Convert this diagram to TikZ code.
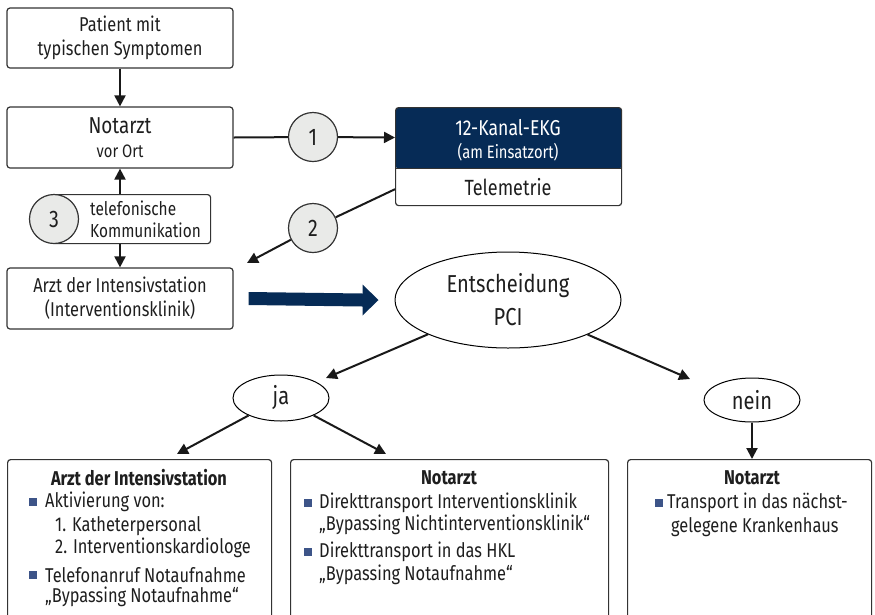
\documentclass[tikz,border=0pt]{standalone}
\usepackage{fontspec}
\setmainfont{Fira Sans}[FakeStretch=0.82]
\usetikzlibrary{shapes.geometric,arrows.meta,calc}
\definecolor{navy}{HTML}{062B56}
\definecolor{circfill}{HTML}{E9EAE8}
\definecolor{bulletc}{HTML}{3D5488}
\definecolor{boxline}{HTML}{333333}
\definecolor{txtc}{HTML}{1E1E1E}
\begin{document}
\begin{tikzpicture}[x=1pt,y=-1pt,
  every node/.style={text=txtc},
  box/.style={draw=boxline, line width=1.2pt, rounded corners=3pt, minimum width=226pt, minimum height=60pt, align=center, inner sep=0pt, font=\fontsize{20}{24}\selectfont},
  bbox/.style={draw=boxline, line width=1.2pt, rounded corners=3pt, minimum height=200pt, inner sep=0pt, anchor=north west},
  arr/.style={line width=2pt, draw=black!90, -{Triangle[length=11pt,width=11pt]}},
  conn/.style={line width=2pt, draw=black!90},
  numc/.style={circle, draw=boxline, line width=1.2pt, fill=circfill, minimum size=49pt, inner sep=0pt, font=\fontsize{24}{24}\selectfont},
  ell/.style={ellipse, draw=black, line width=1pt, inner sep=0pt, align=center, font=\fontsize{24.5}{33}\selectfont},
  bul/.style={fill=bulletc, minimum size=7.5pt, inner sep=0pt},
  txt/.style={inner sep=0pt, anchor=west, font=\fontsize{20}{20}\selectfont},
  ttl/.style={inner sep=0pt, font=\fontsize{20}{20}\selectfont\bfseries},
]
\useasboundingbox (0,0) rectangle (875,614);
\clip (0,0) rectangle (875,614);

% left column
\node[box] (pat) at (120,38) {Patient mit\\typischen Symptomen};
\node[box, minimum height=61pt] (nota) at (120,137.5) {{\fontsize{23}{25}\selectfont Notarzt}\\{\fontsize{18}{21}\selectfont vor Ort}};
\node[box, minimum height=61pt] (arzt) at (120,298.5) {Arzt der Intensivstation\\(Interventionsklinik)};

% EKG box
\node[box, minimum height=98pt, anchor=north west,
  path picture={\fill[navy] (path picture bounding box.north west) rectangle ([yshift=-61pt]path picture bounding box.north east);
  \draw[boxline, line width=1.2pt] ([yshift=-61pt]path picture bounding box.north west) -- ([yshift=-61pt]path picture bounding box.north east);}] (ekg) at (395,107) {};
\node[inner sep=0pt, text=white, font=\fontsize{21.5}{21.5}\selectfont] (ekgt) at (508,128) {12-Kanal-EKG};
\node[inner sep=0pt, text=white, font=\fontsize{18}{18}\selectfont] (ekgs) at (508,152) {(am Einsatzort)};
\node[inner sep=0pt, font=\fontsize{22}{22}\selectfont] (tele2) at (508,187) {Telemetrie};

% telephone box
\node[draw=boxline, line width=1.2pt, rounded corners=3pt, minimum width=158pt, minimum height=49pt, anchor=north west, inner sep=0pt] (tele) at (52,194) {};
\node[txt, font=\fontsize{18.8}{18.8}\selectfont] (tel1) at (90,208) {telefonische};
\node[txt, font=\fontsize{18.8}{18.8}\selectfont] (tel2) at (90,230) {Kommunikation};

% connectors top
\draw[arr] (pat.south) -- (nota.north);
\node[numc] (c1) at (313,137) {1};
\draw[conn] (nota.east) -- (c1);
\draw[arr] (c1) -- (ekg.west |- nota.east);
\coordinate (e2s) at ([yshift=17pt]ekg.south west);
\coordinate (a2end) at (247,263);
\node[numc] (c2) at (313,228) {2};
\draw[conn] (e2s) -- (c2);
\draw[arr] (c2) -- (a2end);
\draw[arr] (nota.south |- tele.north) -- (nota.south);
\draw[arr] (nota.south |- tele.south) -- (arzt.north);
\node[numc] (c3) at (54,219) {3};

% decision
\node[ell, minimum width=226pt, minimum height=96pt] (ent) at (508,300) {Entscheidung\\PCI};
\coordinate (ba1) at ([xshift=15pt]arzt.east);
\coordinate (ba2) at ([xshift=-16pt]ent.west);
\fill[navy] ($(ba1)+(0,-6.5)$) -- ($(ba2)+(-16,-6.5)$) -- ($(ba2)+(-16,-15.5)$) -- (ba2)
  -- ($(ba2)+(-16,15.5)$) -- ($(ba2)+(-16,6.5)$) -- ($(ba1)+(0,6.5)$) -- cycle;

\node[ell, minimum width=96pt, minimum height=46pt] (ja) at (281,398) {ja};
\node[ell, minimum width=96pt, minimum height=44pt] (nein) at (752,400) {nein};
\coordinate (jaE) at (326,378);
\coordinate (neinE) at (690,379);
\draw[arr] (ent) -- (jaE);
\draw[arr] (ent) -- (neinE);

% bottom boxes
\node[bbox, minimum width=264pt] (lb) at (7,459) {};
\node[bbox, minimum width=318pt] (mb) at (290,459) {};
\node[bbox, minimum width=244pt] (rb) at (627,459) {};
\coordinate (lbT) at (177,454);
\coordinate (mbT) at (386,454);
\draw[arr] (ja) -- (lbT);
\draw[arr] (ja) -- (mbT);
\draw[arr] (nein) -- (nein |- rb.north);

% left box text
\node[ttl] (lbt) at (139,478) {Arzt der Intensivstation};
\node[bul] (lb1) at (33,502) {};
\node[txt] (lbx1) at (45,502) {Aktivierung von:};
\node[txt] (lbx2) at (55,526) {1. Katheterpersonal};
\node[txt] (lbx3) at (55,548) {2. Interventionskardiologe};
\node[bul] (lb2) at (33,575) {};
\node[txt] (lbx4) at (45,575) {Telefonanruf Notaufnahme};
\node[txt] (lbx5) at (45,597) {„Bypassing Notaufnahme“};

% middle box text
\node[ttl] (mbt) at (449,478) {Notarzt};
\node[bul] (mb1) at (308,503) {};
\node[txt] (mbx1) at (319,503) {Direkttransport Interventionsklinik};
\node[txt] (mbx2) at (319,525) {„Bypassing Nichtinterventionsklinik“};
\node[bul] (mb2) at (308,552) {};
\node[txt] (mbx3) at (319,552) {Direkttransport in das HKL};
\node[txt] (mbx4) at (319,575) {„Bypassing Notaufnahme“};

% right box text
\node[ttl] (rbt) at (752,478) {Notarzt};
\node[bul] (rb1) at (659,503) {};
\node[txt] (rbx1) at (667,503) {Transport in das nächst-};
\node[txt] (rbx2) at (671,527) {gelegene Krankenhaus};
\end{tikzpicture}
\end{document}
